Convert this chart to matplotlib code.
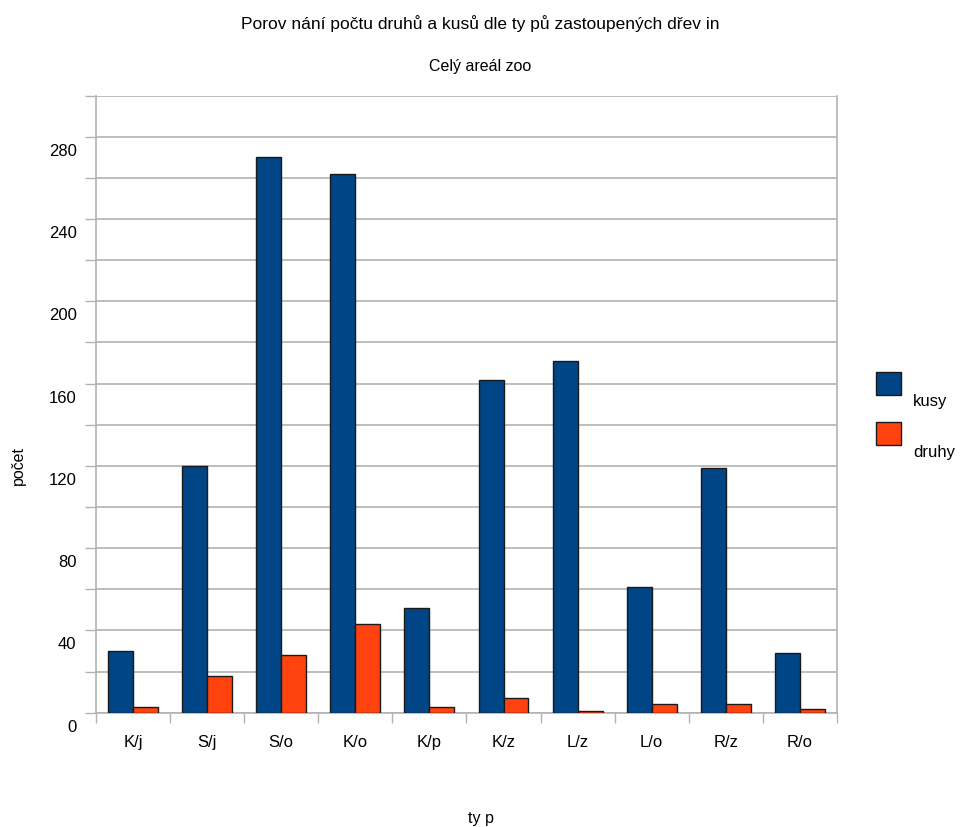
import matplotlib
matplotlib.use("Agg")
import matplotlib.pyplot as plt
import matplotlib.patches as mpatches
from matplotlib.transforms import ScaledTranslation
import numpy as np

# Typy dřevin a hodnoty obou řad
kategorie = ["K/j", "S/j", "S/o", "K/o", "K/p", "K/z", "L/z", "L/o", "R/z", "R/o"]
kusy = [30, 120, 270, 262, 51, 162, 171, 61, 119, 29]
druhy = [3, 18, 28, 43, 3, 7, 1, 4, 4, 2]

nazev = "Porov nání počtu druhů a kusů dle ty pů zastoupených dřev in"
podnazev = "Celý areál zoo"
osa_x = "ty p"
osa_y = "počet"

MODRA = "#004586"
ORANZOVA = "#ff420e"
MRIZKA = "#b3b3b3"

plt.rcParams["font.family"] = ["Liberation Sans", "DejaVu Sans"]

fig = plt.figure(figsize=(9.61, 8.27), dpi=100)
ax = fig.add_axes([0.0999, 0.1382, 0.771, 0.7461])

x = np.arange(len(kategorie))
sirka = 0.337
ax.bar(x - sirka / 2, kusy, sirka, color=MODRA, edgecolor="#1a1a1a", linewidth=1.0, zorder=3)
ax.bar(x + sirka / 2, druhy, sirka, color=ORANZOVA, edgecolor="#1a1a1a", linewidth=1.0, zorder=3)

ax.set_xlim(-0.5, len(kategorie) - 0.5)
ax.set_ylim(0, 300)

# osa x: značky na hranicích kategorií, popisky uprostřed
ax.set_xticks(np.arange(len(kategorie) + 1) - 0.5)
ax.set_xticklabels([])
ax.set_xticks(x, minor=True)
ax.set_xticklabels(kategorie, minor=True, fontsize=12)
ax.tick_params(axis="x", which="major", length=7.5, color=MRIZKA, width=1)
ax.tick_params(axis="x", which="minor", length=0, pad=16)

# osa y: mřížka po 20, popisky po 40
ax.set_yticks(np.arange(0, 301, 40))
ax.set_yticks(np.arange(0, 301, 20), minor=True)
ax.tick_params(axis="y", which="both", length=8, color=MRIZKA, width=1, labelsize=12, pad=6)
ax.grid(axis="y", which="both", color=MRIZKA, linewidth=1.2, zorder=0)
posun = ScaledTranslation(0, -13 / 100, fig.dpi_scale_trans)
for lbl in ax.get_yticklabels():
    lbl.set_transform(lbl.get_transform() + posun)

for s in ["left", "right", "bottom"]:
    ax.spines[s].set_color(MRIZKA)
    ax.spines[s].set_linewidth(1.2)
ax.spines["top"].set_visible(False)

fig.text(0.5, 1 - 24 / 827, nazev, ha="center", va="center", fontsize=12.5)
fig.text(0.5, 1 - 67 / 827, podnazev, ha="center", va="center", fontsize=11.5)
fig.text(18 / 961, 1 - 465 / 827, osa_y, rotation=90, ha="center", va="center", fontsize=11.5)
fig.text(481 / 961, 1 - 818 / 827, osa_x, ha="center", va="center", fontsize=11.5)

# legenda vpravo
for i, (barva, popis) in enumerate([(MODRA, "kusy"), (ORANZOVA, "druhy")]):
    y0 = 372 + i * 50
    fig.patches.append(mpatches.Rectangle((876 / 961, 1 - (y0 + 23) / 827), 25 / 961, 23 / 827,
                                          transform=fig.transFigure, facecolor=barva,
                                          edgecolor="#1a1a1a", linewidth=1.0))
    fig.text(913 / 961, 1 - (y0 + 30) / 827, popis, ha="left", va="center", fontsize=12)

fig.savefig("out.png", dpi=100, facecolor="white")
